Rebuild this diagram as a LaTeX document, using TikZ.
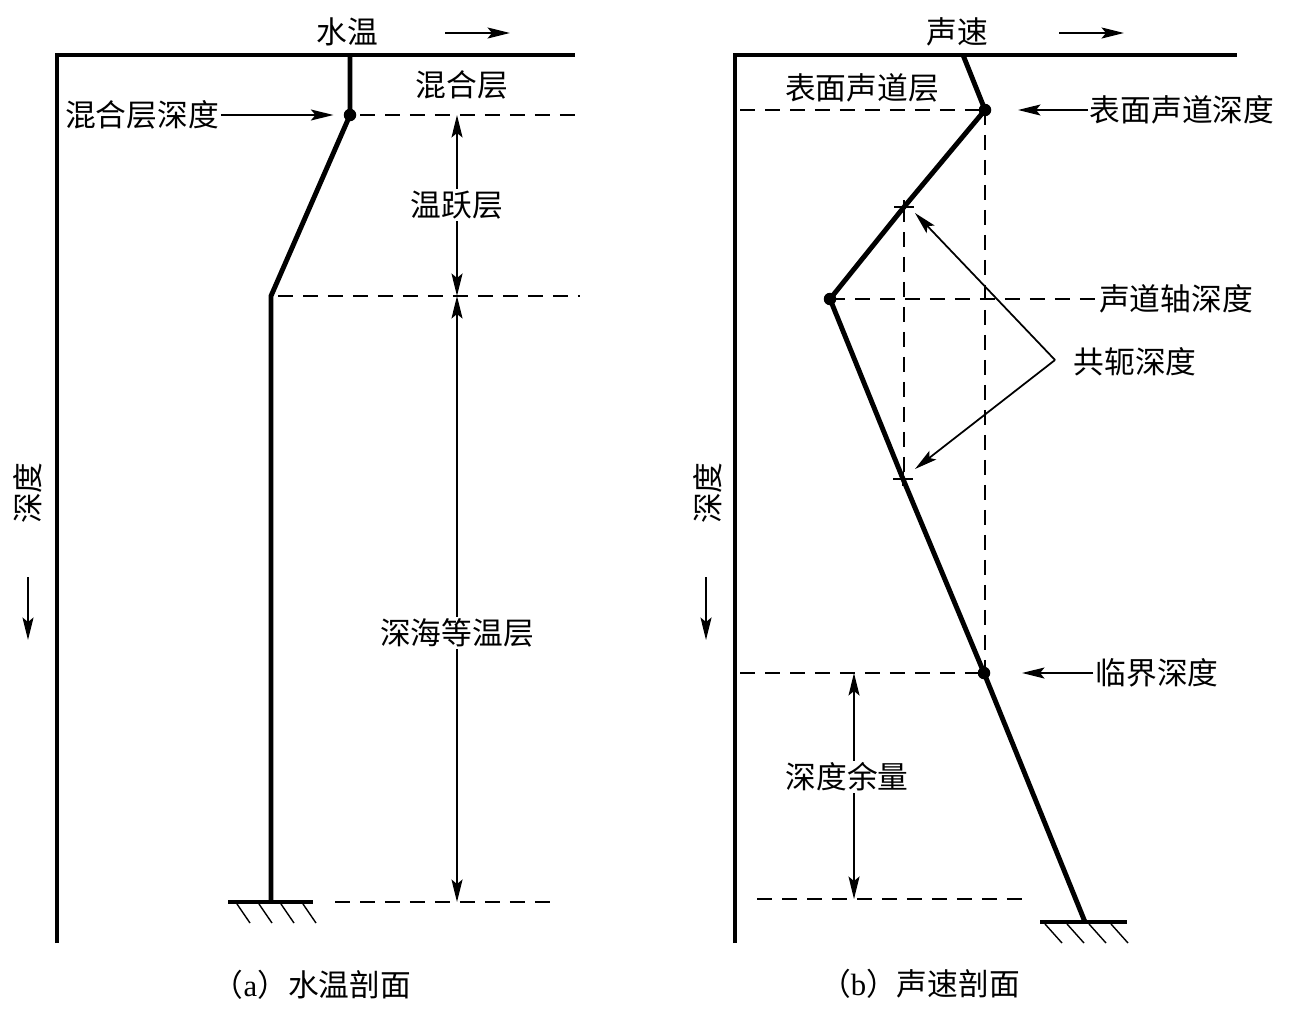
\documentclass[tikz,border=0pt]{standalone}
\usepackage{fontspec}
\setmainfont{Liberation Serif}
\newfontfamily\cjk{Noto Sans CJK SC}
\usetikzlibrary{arrows.meta,positioning}

\begin{document}
\begin{tikzpicture}[x=0.02cm, y=-0.02cm,
    frame/.style={line width=2.4pt},
    profile/.style={line width=2.8pt, line join=miter},
    guide/.style={line width=1.2pt, dash pattern=on 0.3cm off 0.2cm},
    pointer/.style={line width=1pt, -{Stealth[length=0.45cm, width=0.22cm, inset=0.09cm]}},
    hatch/.style={line width=0.8pt},
    lbl/.style={font=\cjk\fontsize{17.5}{20}\selectfont, inner sep=1pt},
    dot/.style={circle, fill=black, inner sep=0pt, minimum size=0.25cm}]
    % (a) water temperature profile, (b) sound speed profile
    \useasboundingbox (0,0) rectangle (1290,1011);

    % ---- (a) ----
    \coordinate (aTL) at (57,55);
    \coordinate (aTR) at (575,55);
    \coordinate (aBL) at (57,943);
    \draw[frame] (aBL) -- (aTL) -- (aTR);

    \coordinate (a0) at (350,55);
    \coordinate (aMix) at (350,115);
    \coordinate (aKnee) at (271,296);
    \coordinate (aBot) at (271,902);
    \draw[profile] (a0) -- (aMix) -- (aKnee) -- (aBot);
    \node[dot] (aMixDot) at (aMix) {};

    \coordinate (aGL) at (228,902);
    \coordinate (aGR) at (313,902);
    \draw[frame] (aGL) -- (aGR);
    \foreach \hx in {237,259,281,303}
        \draw[hatch] (\hx,904) -- ++(13,19);

    \node[lbl] (aTemp) at (347,32) {水温};
    \coordinate (aTempS) at (445,33);
    \coordinate (aTempE) at (510,33);
    \draw[pointer] (aTempS) -- (aTempE);

    \node[lbl] (aMixLayer) at (462,85) {混合层};
    \node[lbl] (aMixDepth) at (142,115) {混合层深度};
    \draw[pointer] (aMixDepth.east) -- ([xshift=-0.2cm]aMixDot.west);

    \coordinate (aD1s) at (360,115);
    \coordinate (aD1e) at (577,115);
    \coordinate (aD2s) at (278,296);
    \coordinate (aD2e) at (580,296);
    \coordinate (aD3s) at (335,902);
    \coordinate (aD3e) at (550,902);
    \draw[guide] (aD1s) -- (aD1e);
    \draw[guide] (aD2s) -- (aD2e);
    \draw[guide] (aD3s) -- (aD3e);

    \node[lbl] (aThermo) at (457,205) {温跃层};
    \draw[pointer] (aThermo.north) -- (457,115);
    \draw[pointer] (aThermo.south) -- (457,296);

    \node[lbl] (aDeep) at (457,633) {深海等温层};
    \draw[pointer] (aDeep.north) -- (457,296);
    \draw[pointer] (aDeep.south) -- (457,902);

    \node[lbl, rotate=90] (aDepth) at (28,493) {深度};
    \coordinate (aDownS) at (28,577);
    \coordinate (aDownE) at (28,640);
    \draw[pointer] (aDownS) -- (aDownE);

    \node[lbl] (aCap) at (312,985) {\cjk（\rmfamily a\cjk）水温剖面};

    % ---- (b) ----
    \coordinate (bTL) at (735,55);
    \coordinate (bTR) at (1237,55);
    \coordinate (bBL) at (735,943);
    \draw[frame] (bBL) -- (bTL) -- (bTR);

    \coordinate (b0) at (963,55);
    \coordinate (bSurf) at (985,110);
    \coordinate (bC1) at (904,207);
    \coordinate (bAxis) at (830,299);
    \coordinate (bC2) at (903,479);
    \coordinate (bCrit) at (984,673);
    \coordinate (bBot) at (1085,922);

    \draw[guide] (740,110) -- (bSurf);
    \draw[guide] (bSurf) -- (bSurf |- bCrit);
    \draw[guide] (bC1) -- (bC1 |- bC2);
    \draw[guide] (740,673) -- (bCrit);
    \coordinate (bMarS) at (757,899);
    \coordinate (bMarE) at (1022,899);
    \draw[guide] (bMarS) -- (bMarE);

    \draw[profile] (b0) -- (bSurf) -- (bC1) -- (bAxis) -- (bC2) -- (bCrit) -- (bBot);
    \node[dot] (bSurfDot) at (bSurf) {};
    \node[dot] (bAxisDot) at (bAxis) {};
    \node[dot] (bCritDot) at (bCrit) {};
    \foreach \c in {bC1,bC2} {
        \draw[line width=1.2pt] (\c) ++(-10,0) -- ++(20,0);
        \draw[line width=1.2pt] (\c) ++(0,-7) -- ++(0,14);
    }

    \coordinate (bGL) at (1040,922);
    \coordinate (bGR) at (1127,922);
    \draw[frame] (bGL) -- (bGR);
    \foreach \hx in {1045,1067,1089,1111}
        \draw[hatch] (\hx,924) -- ++(17,19);

    \node[lbl] (bSpeed) at (957,32) {声速};
    \coordinate (bSpeedS) at (1059,33);
    \coordinate (bSpeedE) at (1124,33);
    \draw[pointer] (bSpeedS) -- (bSpeedE);

    \node[lbl] (bSurfLayer) at (862,88) {表面声道层};
    \node[lbl] (bSurfDepth) at (1182,110) {表面声道深度};
    \draw[pointer] (bSurfDepth.west) -- (1018,110);

    \node[lbl] (bAxisDepth) at (1176,299) {声道轴深度};
    \draw[guide] (bAxis) -- (bAxisDepth.west);

    \node[lbl] (bConj) at (1135,362) {共轭深度};
    \coordinate (bConjTip) at (1055,360);
    \draw[pointer] (bConjTip) -- (915,213);
    \draw[pointer] (bConjTip) -- (915,469);

    \node[lbl] (bCritDepth) at (1157,673) {临界深度};
    \draw[pointer] (bCritDepth.west) -- (1022,673);

    \node[lbl] (bMargin) at (847,777) {深度余量};
    \coordinate (bMarX) at (854,777);
    \draw[pointer] (bMargin.north -| bMarX) -- (bMarX |- bCrit);
    \draw[pointer] (bMargin.south -| bMarX) -- (bMarX |- bMarS);

    \node[lbl, rotate=90] (bDepth) at (708,493) {深度};
    \coordinate (bDownS) at (706,577);
    \coordinate (bDownE) at (706,640);
    \draw[pointer] (bDownS) -- (bDownE);

    \node[lbl] (bCap) at (920,984) {\cjk（\rmfamily b\cjk）声速剖面};
\end{tikzpicture}
\end{document}
